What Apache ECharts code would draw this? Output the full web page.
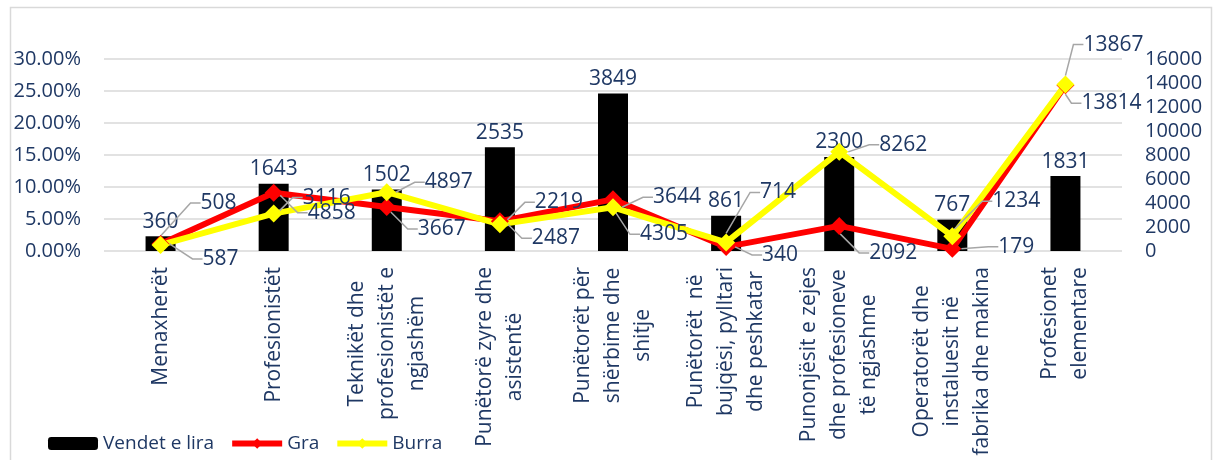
<!DOCTYPE html>
<html>
<head>
<meta charset="utf-8">
<script src="https://cdn.jsdelivr.net/npm/echarts@6/dist/echarts.min.js"></script>
<style>
html,body{margin:0;padding:0;background:#fff;}
#chart{width:1217px;height:460px;}
</style>
</head>
<body>
<div id="chart"></div>
<script>
// ---- data ----
var categories = [
  'Menaxherët',
  'Profesionistët',
  'Teknikët dhe\nprofesionistët e\nngjashëm',
  'Punëtorë zyre dhe\nasistentë',
  'Punëtorët për\nshërbime dhe\nshitje',
  'Punëtorët  në\nbujqësi, pylltari\ndhe peshkatar',
  'Punonjësit e zejes\ndhe profesioneve\ntë ngjashme',
  'Operatorët dhe\ninstaluesit në\nfabrika dhe makina',
  'Profesionet\nelementare'
];
var vendetShare = [2.30, 10.50, 9.60, 16.20, 24.60, 5.50, 14.70, 4.90, 11.70];
// bar data labels (counts)
var vendetCount = [360, 1643, 1502, 2535, 3849, 861, 2300, 767, 1831];
var graValues = [587, 4858, 3667, 2487, 4305, 340, 2092, 179, 13814];
var burraValues = [508, 3116, 4897, 2219, 3644, 714, 8262, 1234, 13867];
var leftTicks = {min: 0, max: 30, interval: 5};
var rightTicks = {min: 0, max: 16000, interval: 2000};

// ---- label offsets (layout only) ----
var burraShift = [[58,-42],[53,-16],[62,-10],[59,-22],[64,-10],[52,-50],[64,-7],[64,-35],[48,-40]];
var graShift = [[60,15],[58,20],[55,22],[56,17],[51,35],[54,8],[54,27],[64,-2],[46,18]];

var txt = '#1F3864';
var fontFam = '"Open Sans", sans-serif';

var chart = echarts.init(document.getElementById('chart'), null, {renderer: 'canvas'});
chart.setOption({
  animation: false,
  backgroundColor: '#fff',
  graphic: [{
    type: 'rect', left: 8, top: 5, z: -1,
    shape: {width: 1201, height: 470},
    style: {fill: 'none', stroke: '#D9D9D9', lineWidth: 1.5}
  }],
  grid: {left: 104, right: 95, top: 59, bottom: 209, containLabel: false},
  legend: {
    left: 43, top: 429,
    itemWidth: 50, itemHeight: 13, itemGap: 15,
    lineStyle: {width: 6},
    textStyle: {color: txt, fontSize: 19, fontFamily: fontFam},
    data: ['Vendet e lira', 'Gra', 'Burra']
  },
  xAxis: {
    type: 'category',
    data: categories,
    axisLine: {show: false},
    axisTick: {show: false},
    axisLabel: {
      rotate: 90, margin: 16, interval: 0,
      color: txt, fontSize: 21, fontFamily: fontFam, lineHeight: 30,
      formatter: function (v) {
        return v.split('\n').map(function (l) { return '{c|' + l + '}'; }).join('\n');
      },
      rich: {c: {align: 'center', color: txt, fontSize: 21, fontFamily: fontFam, lineHeight: 30}}
    }
  },
  yAxis: [{
    type: 'value', min: leftTicks.min, max: leftTicks.max, interval: leftTicks.interval,
    axisLine: {show: false}, axisTick: {show: false},
    splitLine: {lineStyle: {color: '#D9D9D9', width: 1.5}},
    axisLabel: {margin: 23, color: txt, fontSize: 20, fontFamily: fontFam,
      formatter: function (v) { return v.toFixed(2) + '%'; }}
  }, {
    type: 'value', min: rightTicks.min, max: rightTicks.max, interval: rightTicks.interval,
    axisLine: {show: false}, axisTick: {show: false},
    splitLine: {show: false},
    axisLabel: {margin: 23, color: txt, fontSize: 20, fontFamily: fontFam,
      formatter: function (v) { return String(v); }}
  }],
  series: [{
    name: 'Vendet e lira', type: 'bar', yAxisIndex: 0,
    data: vendetShare, barWidth: 30,
    itemStyle: {color: '#000'},
    label: {show: true, position: 'top', distance: 4, color: txt, fontSize: 21, fontFamily: fontFam,
      formatter: function (p) { return String(vendetCount[p.dataIndex]); }}
  }, {
    name: 'Gra', type: 'line', yAxisIndex: 1,
    data: graValues,
    lineStyle: {color: '#FF0000', width: 6},
    itemStyle: {color: '#FF0000'},
    symbol: 'diamond', symbolSize: 18,
    label: {show: true, position: 'inside', color: txt, fontSize: 21, fontFamily: fontFam},
    labelLine: {show: true, length2: 10, lineStyle: {color: '#A6A6A6', width: 1.5}},
    labelLayout: function (p) { var s = graShift[p.dataIndex]; return {dx: s[0], dy: s[1]}; }
  }, {
    name: 'Burra', type: 'line', yAxisIndex: 1,
    data: burraValues,
    lineStyle: {color: '#FFFF00', width: 6},
    itemStyle: {color: '#FFFF00'},
    symbol: 'diamond', symbolSize: 18,
    label: {show: true, position: 'inside', color: txt, fontSize: 21, fontFamily: fontFam},
    labelLine: {show: true, length2: 10, lineStyle: {color: '#A6A6A6', width: 1.5}},
    labelLayout: function (p) { var s = burraShift[p.dataIndex]; return {dx: s[0], dy: s[1]}; }
  }]
});
</script>
</body>
</html>
